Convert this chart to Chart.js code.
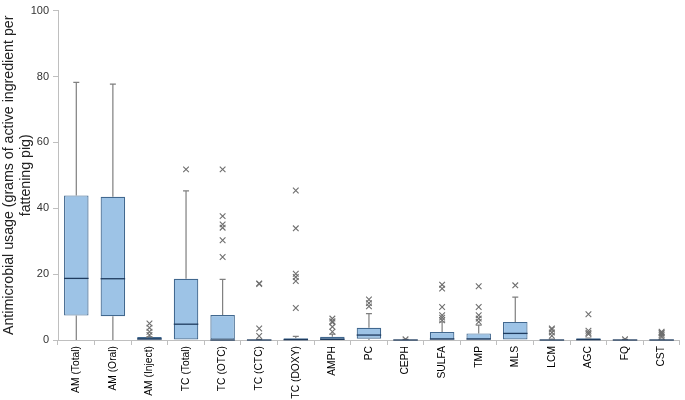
<!DOCTYPE html>
<html>
<head>
<meta charset="utf-8">
<script src="https://cdn.jsdelivr.net/npm/chart.js@4"></script>
<style>
  html, body { margin:0; padding:0; background:#fff; }
  #wrap { width:685px; height:400px; }
</style>
</head>
<body>
<div id="wrap"><canvas id="c" width="685" height="400"></canvas></div>
<script>
// box plot values (grams per fattening pig)
const labels = ['AM (Total)','AM (Oral)','AM (Inject)','TC (Total)','TC (OTC)','TC (CTC)','TC (DOXY)','AMPH','PC','CEPH','SULFA','TMP','MLS','LCM','AGC','FQ','CST'];
const q1          = [7.4, 7.2, 0,   0,    0,    0,   0,   0,   0.4, 0,   0,   0,   0,    0,   0,   0,   0];
const median      = [18.7,18.6,0.3, 4.8,  0,    0,   0.1, 0.2, 1.5, 0,   0.3, 0.3, 2.0,  0,   0.1, 0,   0];
const q3          = [43.9,43.5,0.9, 18.6, 7.6,  0.1, 0.5, 1.0, 3.7, 0.1, 2.4, 2.0, 5.5,  0.2, 0.5, 0.1, 0.2];
const whiskerLow  = [0,   0,   0,   0,    0,    0,   0,   0,   0,   0,   0,   0,   0,    0,   0,   0,   0];
const whiskerHigh = [78.2,77.7,1.0, 45.3, 18.4, 0.2, 1.1, 1.8, 8.0, 0.2, 5.5, 4.5, 13.0, 0.3, 0.6, 0.2, 0.3];
const outliers = [
  [], [], [1.5,2.5,3.7,5.0], [51.8], [51.8,37.6,35.1,34.1,30.3,25.2], [17.2,17.0,3.5,1.2],
  [45.4,33.9,20.1,19.1,17.9,9.7], [6.5,5.7,5.4,4.0,2.5], [12.3,11.2,10.2], [0.2],
  [16.8,15.6,10.0,7.5,6.8,6.0], [16.3,10.0,7.5,6.5,5.5], [16.6], [3.5,3.2,2.3,1.3],
  [7.8,2.8,2.2,1.8], [0.2], [2.5,2.2,2.0,1.5,1.0]
];
const yTicks = [0, 20, 40, 60, 80, 100];

const FONT = '"Liberation Sans", Arial, sans-serif';

// whiskers + median drawn on the library's scales
const boxExtras = {
  id: 'boxExtras',
  afterDatasetsDraw(chart) {
    const { ctx, scales: { x, y } } = chart;
    const meta = chart.getDatasetMeta(0);
    ctx.save();
    labels.forEach((l, i) => {
      const bar = meta.data[i];
      const cx = x.getPixelForValue(i);
      const half = bar.width / 2;
      // whiskers
      ctx.strokeStyle = '#7f7f7f';
      ctx.lineWidth = 1.2;
      ctx.beginPath();
      ctx.moveTo(cx, y.getPixelForValue(q3[i]));
      ctx.lineTo(cx, y.getPixelForValue(whiskerHigh[i]));
      ctx.moveTo(cx - 3, y.getPixelForValue(whiskerHigh[i]));
      ctx.lineTo(cx + 3, y.getPixelForValue(whiskerHigh[i]));
      ctx.moveTo(cx, y.getPixelForValue(q1[i]));
      ctx.lineTo(cx, y.getPixelForValue(whiskerLow[i]));
      ctx.stroke();
      // median
      ctx.strokeStyle = '#1f3b5e';
      ctx.lineWidth = 1.3;
      ctx.beginPath();
      const my = y.getPixelForValue(median[i]);
      ctx.moveTo(cx - half, my);
      ctx.lineTo(cx + half, my);
      ctx.stroke();
    });
    ctx.restore();
  }
};

const outlierPoints = [];
outliers.forEach((arr, i) => arr.forEach(v => outlierPoints.push({ x: labels[i], y: v })));

new Chart(document.getElementById('c'), {
  data: {
    labels,
    datasets: [
      {
        type: 'bar',
        data: labels.map((l, i) => [q1[i], q3[i]]),
        backgroundColor: '#9dc3e6',
        borderColor: '#41688f',
        borderWidth: 1.2,
        borderSkipped: false,
        categoryPercentage: 1,
        barPercentage: 0.67,
        order: 2
      },
      {
        type: 'line',
        data: outlierPoints,
        showLine: false,
        pointStyle: 'crossRot',
        pointRadius: 4,
        pointBorderColor: '#6f6f6f',
        pointBorderWidth: 1.1,
        order: 1
      }
    ]
  },
  options: {
    responsive: false,
    animation: false,
    layout: { padding: { top: 5, right: 5, left: 0, bottom: 0 } },
    plugins: { legend: { display: false }, tooltip: { enabled: false } },
    scales: {
      x: {
        type: 'category',
        offset: true,
        grid: { offset: true, drawOnChartArea: false, tickLength: 5, color: '#bfbfbf' },
        border: { color: '#bfbfbf' },
        ticks: { minRotation: 90, maxRotation: 90, autoSkip: false, color: '#000', font: { family: FONT, size: 10.3 }, padding: 1 },
        afterFit: s => { s.height = 60; }
      },
      y: {
        min: 0, max: 100,
        afterBuildTicks: s => { s.ticks = yTicks.map(v => ({ value: v })); },
        grid: { drawOnChartArea: false, tickLength: 5, color: '#bfbfbf' },
        border: { color: '#bfbfbf' },
        ticks: { color: '#333', font: { family: FONT, size: 11 }, padding: 4 },
        title: {
          display: true,
          text: ['Antimicrobial usage (grams of active ingredient per', 'fattening pig)'],
          color: '#222',
          font: { family: FONT, size: 14.2 },
          padding: 1
        },
        afterFit: s => { s.width = 58; }
      }
    }
  },
  plugins: [boxExtras]
});
</script>
</body>
</html>
